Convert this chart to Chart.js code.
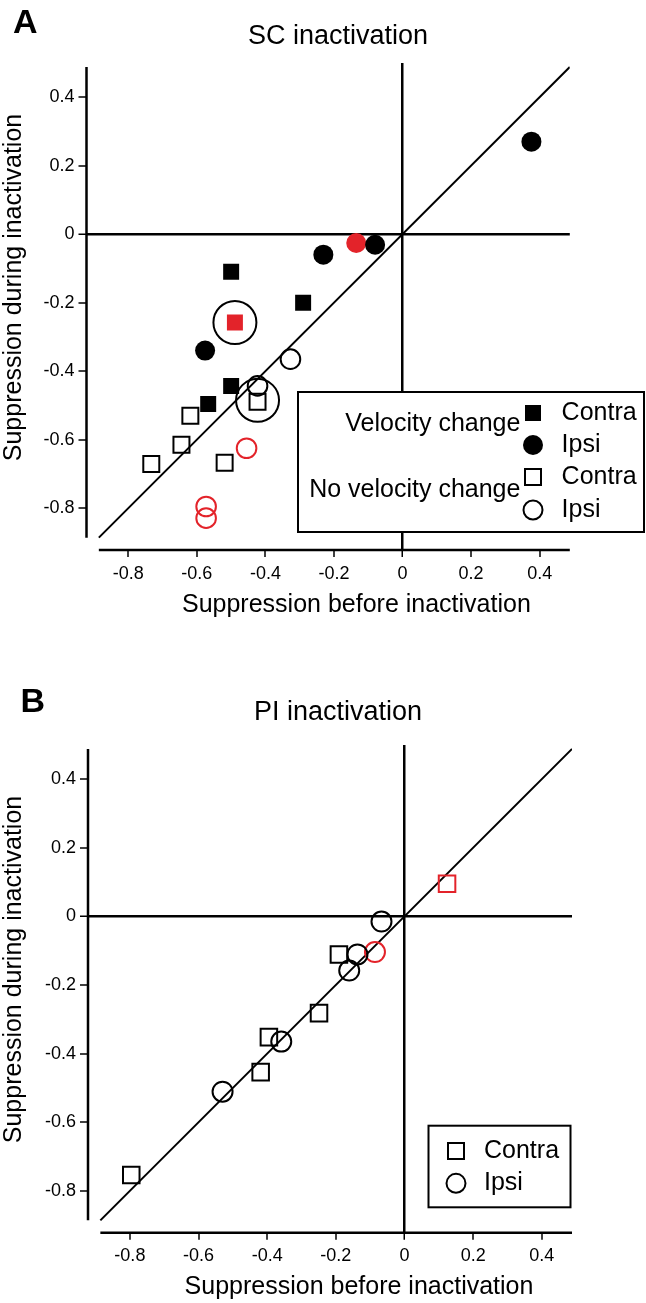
<!DOCTYPE html>
<html>
<head>
<meta charset="utf-8">
<title>SC and PI inactivation</title>
<script src="https://cdn.jsdelivr.net/npm/chart.js@4.4.1/dist/chart.umd.min.js"></script>
<style>
  html, body { margin: 0; padding: 0; background: #fff; }
  canvas { display: block; }
</style>
</head>
<body>
<canvas id="chartA" width="646" height="682"></canvas>
<canvas id="chartB" width="646" height="621"></canvas>
<script>
// shared axis ticks
const tickValues = [-0.8, -0.6, -0.4, -0.2, 0, 0.2, 0.4];
const tickLabels = ["-0.8", "-0.6", "-0.4", "-0.2", "0", "0.2", "0.4"];
const unityLine = [-0.886, 0.488];

// A: SC inactivation, points are [before, during]
const scVelContra = [[-0.50, -0.11], [-0.29, -0.20], [-0.50, -0.443], [-0.567, -0.496]];
const scVelContraRed = [[-0.489, -0.258]];
const scVelIpsi = [[0.376, 0.27], [-0.08, -0.031], [-0.231, -0.06], [-0.576, -0.34]];
const scVelIpsiRed = [[-0.135, -0.026]];
const scNoVelContra = [[-0.423, -0.489], [-0.619, -0.53], [-0.645, -0.615], [-0.733, -0.671], [-0.519, -0.667]];
const scNoVelIpsi = [[-0.327, -0.365], [-0.423, -0.443]];
const scNoVelIpsiRed = [[-0.455, -0.625], [-0.573, -0.795], [-0.573, -0.829]];
const scCircled = [[-0.489, -0.258], [-0.423, -0.485]];

// B: PI inactivation
const piContra = [[-0.191, -0.111], [-0.249, -0.282], [-0.395, -0.352], [-0.419, -0.454], [-0.796, -0.754]];
const piContraRed = [[0.124, 0.095]];
const piIpsi = [[-0.067, -0.015], [-0.137, -0.111], [-0.161, -0.158], [-0.359, -0.365], [-0.53, -0.511]];
const piIpsiRed = [[-0.086, -0.104]];

const RED = "#e3232a";
const FONT = "Arial, 'Liberation Sans', Helvetica, sans-serif";
Chart.defaults.font.family = FONT;
Chart.defaults.color = "#000";

const toPts = arr => arr.map(([x, y]) => ({ x, y }));

function marks(data, shape, color, filled, r) {
    return {
        data: toPts(data),
        pointStyle: shape,
        pointRadius: r,
        pointHoverRadius: r,
        backgroundColor: filled ? color : "rgba(0,0,0,0)",
        borderColor: color,
        borderWidth: filled ? 0 : 2,
    };
}

function drawMark(ctx, shape, filled, x, y) {
    ctx.beginPath();
    if (shape === "rect") ctx.rect(x - 8, y - 8, 16, 16);
    else ctx.arc(x, y, filled ? 10 : 9.5, 0, Math.PI * 2);
    if (filled) ctx.fill(); else ctx.stroke();
}

const panelDecor = {
    id: "panelDecor",
    beforeDatasetsDraw(chart, args, o) {
        const { ctx, chartArea: a, scales: { x, y } } = chart;
        ctx.save();
        ctx.strokeStyle = "#000";
        ctx.lineWidth = 2.5;
        ctx.beginPath();
        ctx.moveTo(a.left, y.getPixelForValue(unityLine[1]));
        ctx.lineTo(a.left, y.getPixelForValue(unityLine[0]));
        ctx.moveTo(x.getPixelForValue(unityLine[0]), a.bottom);
        ctx.lineTo(x.getPixelForValue(unityLine[1]), a.bottom);
        ctx.stroke();
        ctx.restore();
    },
    afterDraw(chart, args, o) {
        const ctx = chart.ctx;
        ctx.save();
        ctx.fillStyle = "#000";
        ctx.textBaseline = "alphabetic";

        ctx.font = "bold 34px " + FONT;
        ctx.textAlign = "left";
        ctx.fillText(o.letter, o.letterX, o.letterY);

        ctx.font = "27px " + FONT;
        ctx.textAlign = "center";
        ctx.fillText(o.title, 338, o.titleY);

        ctx.font = "25px " + FONT;
        ctx.fillText("Suppression before inactivation", o.xTitleX, 611.5);

        ctx.save();
        ctx.translate(14, 287.5);
        ctx.rotate(-Math.PI / 2);
        ctx.textBaseline = "middle";
        ctx.fillText("Suppression during inactivation", 0, 0);
        ctx.restore();

        // legend
        const L = o.legend;
        ctx.fillStyle = "#fff";
        ctx.fillRect(L.x, L.y, L.w, L.h);
        ctx.strokeStyle = "#000";
        ctx.lineWidth = 2;
        ctx.strokeRect(L.x, L.y, L.w, L.h);
        ctx.fillStyle = "#000";
        ctx.textBaseline = "middle";
        L.items.forEach(it => {
            drawMark(ctx, it.shape, it.filled, L.markX, it.y);
            ctx.textAlign = "left";
            ctx.fillText(it.label, L.textX, it.y);
        });
        (L.groups || []).forEach(g => {
            ctx.textAlign = "right";
            ctx.fillText(g.label, L.groupX, g.y);
        });
        ctx.restore();
    },
};

function makePanel(p) {
    const scaleFont = { size: 18 };
    const grid = (tickLength) => ({
        color: c => (c.tick && c.tick.value === 0 ? "#000" : "rgba(0,0,0,0)"),
        lineWidth: c => (c.tick && c.tick.value === 0 ? 2.5 : 0),
        tickColor: "#000",
        tickWidth: 1.5,
        tickLength: tickLength,
        drawTicks: true,
    });
    const config = {
        type: "scatter",
        data: {
            datasets: [
                ...p.datasets,
                {
                    data: toPts([[unityLine[0], unityLine[0]], [unityLine[1], unityLine[1]]]),
                    showLine: true,
                    borderColor: "#000",
                    borderWidth: 2,
                    pointRadius: 0,
                    order: 10,
                },
            ],
        },
        options: {
            responsive: false,
            animation: false,
            events: [],
            devicePixelRatio: 1,
            layout: {
                padding: { top: p.top, right: 646 - p.right, bottom: p.h - p.bottom - 60, left: 0 },
            },
            plugins: {
                legend: { display: false },
                tooltip: { enabled: false },
                panelDecor: p.decor,
            },
            scales: {
                x: {
                    type: "linear",
                    min: -0.922,
                    max: 0.488,
                    afterFit: s => { s.height = 60; },
                    afterBuildTicks: s => { s.ticks = tickValues.map(v => ({ value: v })); },
                    ticks: { callback: (v, i) => tickLabels[i], font: scaleFont, color: "#000", padding: 6 },
                    grid: grid(7),
                    border: { display: false },
                },
                y: {
                    type: "linear",
                    min: -0.922,
                    max: 0.4995,
                    afterFit: s => { s.width = p.left; },
                    afterBuildTicks: s => { s.ticks = tickValues.map(v => ({ value: v })); },
                    ticks: { callback: (v, i) => tickLabels[i], font: scaleFont, color: "#000", padding: 4 },
                    grid: grid(8),
                    border: { display: false },
                },
            },
        },
        plugins: [panelDecor],
    };
    return new Chart(document.getElementById(p.canvas), config);
}

makePanel({
    canvas: "chartA", h: 682, left: 86.5, right: 569.8, top: 63, bottom: 550,
    datasets: [
        marks(scVelContra, "rect", "#000", true, 11.3),
        marks(scVelIpsi, "circle", "#000", true, 10),
        marks(scVelContraRed, "rect", RED, true, 11.3),
        marks(scVelIpsiRed, "circle", RED, true, 10),
        marks(scNoVelContra, "rect", "#000", false, 11.3),
        marks(scNoVelIpsi, "circle", "#000", false, 9.8),
        marks(scNoVelIpsiRed, "circle", RED, false, 9.8),
        marks(scCircled, "circle", "#000", false, 21.5),
    ],
    decor: {
        letter: "A", letterX: 13, letterY: 33,
        title: "SC inactivation", titleY: 44.3, xTitleX: 356.4,
        legend: {
            x: 298, y: 392, w: 346, h: 140, markX: 533, textX: 561.6, groupX: 520.4,
            items: [
                { shape: "rect", filled: true, y: 413, label: "Contra" },
                { shape: "circle", filled: true, y: 445, label: "Ipsi" },
                { shape: "rect", filled: false, y: 477, label: "Contra" },
                { shape: "circle", filled: false, y: 510, label: "Ipsi" },
            ],
            groups: [
                { label: "Velocity change", y: 424 },
                { label: "No velocity change", y: 490 },
            ],
        },
    },
});

makePanel({
    canvas: "chartB", h: 621, left: 88, right: 572, top: 63, bottom: 550.7,
    datasets: [
        marks(piContra, "rect", "#000", false, 11.7),
        marks(piIpsi, "circle", "#000", false, 10),
        marks(piContraRed, "rect", RED, false, 11.7),
        marks(piIpsiRed, "circle", RED, false, 10),
    ],
    decor: {
        letter: "B", letterX: 20.6, letterY: 29.7,
        title: "PI inactivation", titleY: 38, xTitleX: 359,
        legend: {
            x: 428.5, y: 443.7, w: 142, h: 81.6, markX: 456, textX: 484,
            items: [
                { shape: "rect", filled: false, y: 469, label: "Contra" },
                { shape: "circle", filled: false, y: 501.3, label: "Ipsi" },
            ],
        },
    },
});
</script>
</body>
</html>
